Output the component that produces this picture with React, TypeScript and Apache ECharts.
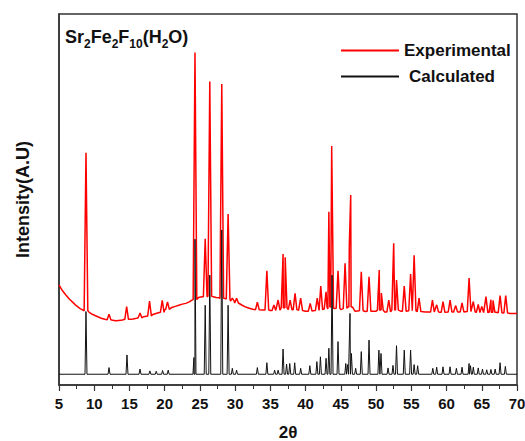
import React, { useEffect, useRef } from "react";
import * as echarts from "echarts";

// x-axis tick values (2θ)
const xTicks = [5, 10, 15, 20, 25, 30, 35, 40, 45, 50, 55, 60, 65, 70];

// Experimental pattern: background points [2θ, intensity]
const expBackground: number[][] = [
  [5.0, 27.0], [5.5, 25.4], [6.0, 24.2], [6.5, 23.1], [7.0, 22.2], [7.5, 21.3], [8.0, 20.6], [8.4, 20.2],
  [9.3, 19.6], [9.8, 19.0], [10.5, 18.4], [11.0, 18.0], [11.5, 17.7], [12.5, 17.5], [13.0, 17.3], [13.5, 17.4],
  [14.0, 17.5], [15.2, 17.7], [15.5, 17.8], [16.0, 18.0], [17.0, 18.4], [18.3, 19.0], [19.0, 19.4], [20.0, 20.3],
  [21.0, 20.9], [21.5, 21.2], [22.0, 21.5], [22.5, 21.8], [23.0, 22.0], [23.5, 22.4], [23.8, 22.8],
  [24.8, 23.6], [25.3, 23.8], [26.0, 24.0], [26.9, 23.8], [27.3, 23.6], [27.7, 23.5], [28.6, 23.3], [29.3, 22.9],
  [30.5, 22.0], [31.0, 21.5], [31.5, 21.0], [32.0, 20.7], [32.5, 20.4], [33.5, 20.3], [34.0, 20.2], [35.0, 20.1],
  [36.0, 20.2], [38.0, 20.3], [39.0, 20.1], [40.0, 19.9], [41.0, 20.0], [42.5, 20.4], [44.0, 20.6], [45.0, 20.3],
  [47.0, 19.9], [48.5, 19.8], [50.0, 19.9], [51.2, 19.7], [53.5, 19.9], [55.0, 19.8], [57.0, 19.7], [59.0, 19.6],
  [61.0, 19.7], [63.0, 19.8], [65.0, 19.5], [67.0, 19.6], [69.0, 19.3], [70.0, 19.3],
];

// Experimental peaks: [2θ, top intensity, base intensity]
const expPeaks: number[][] = [
  [8.83, 62.6, 20.0], [12.1, 19.1, 17.6], [14.6, 21.1, 17.7], [16.5, 19.4, 18.1], [17.85, 22.6, 18.6],
  [19.65, 22.8, 19.6], [20.4, 22.4, 20.4], [24.3, 89.6, 23.0], [25.75, 39.4, 23.8], [26.4, 81.8, 23.9],
  [28.1, 81.1, 23.4], [29.0, 46.1, 23.2], [29.6, 23.4, 22.6], [30.2, 23.4, 22.1], [33.15, 22.3, 20.3],
  [34.5, 30.8, 20.2], [35.5, 21.6, 20.1], [36.1, 22.9, 20.2], [36.8, 35.3, 20.8], [37.1, 34.4, 20.8],
  [37.8, 22.9, 20.3], [38.5, 24.7, 20.3], [39.3, 23.4, 20.1], [40.65, 22.0, 19.9], [41.65, 23.4, 20.1],
  [42.15, 26.7, 20.3], [42.9, 25.1, 20.5], [43.3, 46.7, 21.0], [43.7, 64.4, 21.0], [44.6, 30.8, 20.7],
  [45.6, 32.8, 20.6], [46.2, 37.3, 21.0], [46.4, 51.2, 21.0], [47.9, 30.5, 20.0], [49.0, 29.2, 19.9],
  [50.45, 31.0, 20.2], [50.75, 24.8, 20.2], [51.8, 22.9, 19.7], [52.5, 38.2, 20.2], [52.9, 28.3, 20.2],
  [54.0, 26.7, 19.9], [54.9, 29.9, 20.0], [55.4, 35.0, 20.0], [56.1, 23.4, 19.8], [58.0, 22.9, 19.7],
  [58.6, 21.6, 19.7], [59.5, 22.5, 19.6], [60.5, 22.9, 19.7], [61.3, 21.4, 19.7], [62.2, 22.1, 19.7],
  [63.2, 28.8, 19.8], [63.8, 22.5, 19.7], [64.5, 21.7, 19.6], [65.0, 21.2, 19.5], [65.6, 23.8, 19.5],
  [66.3, 23.0, 19.6], [66.6, 22.8, 19.6], [67.6, 24.1, 19.5], [68.4, 24.1, 19.4],
];

// Calculated pattern: baseline and peaks [2θ, top intensity]
const calcBase = 2.9;
const calcPeaks: number[][] = [
  [8.83, 19.8], [12.1, 4.7], [14.65, 8.1], [16.5, 4.3], [17.9, 3.8], [18.8, 3.7], [19.7, 3.9], [20.5, 4.0],
  [24.15, 7.4], [24.3, 39.3], [25.75, 21.5], [26.4, 29.6], [28.1, 41.8], [29.0, 21.5], [29.6, 4.5], [30.2, 4.0],
  [33.15, 4.7], [34.5, 6.0], [35.6, 4.0], [36.1, 4.0], [36.8, 9.7], [37.3, 5.6], [37.75, 5.8], [38.45, 6.0],
  [39.3, 4.5], [40.6, 5.2], [41.6, 6.3], [42.1, 7.6], [42.9, 7.2], [43.3, 9.9], [43.75, 29.6], [44.6, 11.7],
  [45.7, 5.8], [45.95, 5.5], [46.3, 19.3], [46.5, 8.5], [47.1, 4.5], [47.9, 9.0], [49.0, 12.1], [50.4, 9.4],
  [50.7, 8.5], [51.7, 4.6], [52.4, 5.3], [52.9, 10.6], [54.0, 9.4], [54.9, 9.4], [55.4, 5.5], [55.9, 5.2],
  [58.05, 4.5], [58.6, 4.8], [59.5, 4.9], [60.5, 4.9], [61.4, 4.5], [62.2, 4.8], [63.2, 5.8], [63.4, 5.2],
  [63.8, 4.8], [64.5, 4.6], [65.1, 4.3], [65.7, 4.1], [66.3, 4.2], [66.9, 4.3], [67.6, 6.0], [68.35, 5.0],
];

const W_EXP = 0.26;
const W_CALC = 0.14;
const FONT = "'Liberation Sans', Arial, sans-serif";

function buildExp(): number[][] {
  const pts: number[][] = expBackground.filter(
    ([x]) => !expPeaks.some(([p]) => Math.abs(x - p) < W_EXP)
  );
  expPeaks.forEach(([p, top, base]) => {
    pts.push([p - W_EXP, base], [p, top], [p + W_EXP, base]);
  });
  return pts.sort((a, b) => a[0] - b[0]);
}

function buildCalc(): number[][] {
  const pts: number[][] = [[xTicks[0], calcBase], [xTicks[xTicks.length - 1], calcBase]];
  calcPeaks.forEach(([p, top]) => {
    pts.push([p - W_CALC, calcBase], [p, top], [p + W_CALC, calcBase]);
  });
  return pts.sort((a, b) => a[0] - b[0]);
}

export default function App() {
  const ref = useRef<HTMLDivElement>(null);
  useEffect(() => {
    if (!ref.current) return;
    document.body.style.margin = "0";
    const chart = echarts.init(ref.current, null, { renderer: "svg" });
    chart.setOption({
      animation: false,
      backgroundColor: "#ffffff",
      grid: {
        left: 59, right: 8, top: 14, bottom: 56,
        containLabel: false,
        outerBoundsMode: "none",
        show: true, borderColor: "#333333", borderWidth: 1.5,
      },
      title: {
        left: 65, top: 25, padding: 0,
        text: "{n|Sr}{s|2}{n|Fe}{s|2}{n|F}{s|10}{n|(H}{s|2}{n|O)}",
        textStyle: {
          rich: {
            n: { fontFamily: FONT, fontWeight: "bold", fontSize: 18, color: "#111", lineHeight: 21, verticalAlign: "bottom" },
            s: { fontFamily: FONT, fontWeight: "bold", fontSize: 12, color: "#111", lineHeight: 12, verticalAlign: "bottom", padding: [0, 0, -4, 0] },
          },
        },
      },
      legend: {
        orient: "vertical",
        left: 341, top: 42, padding: 0,
        itemWidth: 58, itemHeight: 2, itemGap: 9,
        icon: "rect",
        data: ["Experimental", "Calculated"],
        formatter: (name: string) => (name === "Calculated" ? "{c|" + name + "}" : "{e|" + name + "}"),
        textStyle: {
          rich: {
            e: { fontFamily: FONT, fontWeight: "bold", fontSize: 17, color: "#111", padding: [0, 0, 0, 0] },
            c: { fontFamily: FONT, fontWeight: "bold", fontSize: 17, color: "#111", padding: [0, 0, 0, 5] },
          },
        },
      },
      xAxis: {
        type: "value",
        min: 5, max: 70, interval: 5,
        name: "2θ",
        nameLocation: "middle",
        nameGap: 39,
        nameTextStyle: { fontFamily: FONT, fontWeight: "bold", fontSize: 17, lineHeight: 16, color: "#111" },
        axisLine: { show: true, lineStyle: { color: "#333", width: 1.5 } },
        axisTick: { show: true, inside: false, length: 6, lineStyle: { color: "#333", width: 1.2 } },
        minorTick: { show: true, splitNumber: 2, length: 4, lineStyle: { color: "#333", width: 1 } },
        axisLabel: { fontFamily: FONT, fontWeight: "bold", fontSize: 15, color: "#111", margin: 11 },
        splitLine: { show: false },
      },
      yAxis: {
        type: "value",
        min: 0, max: 100,
        name: "Intensity(A.U)",
        nameLocation: "middle",
        nameGap: 27,
        nameTextStyle: { fontFamily: FONT, fontWeight: "bold", fontSize: 18, color: "#111" },
        axisLine: { show: true, lineStyle: { color: "#333", width: 1.5 } },
        axisTick: { show: false },
        axisLabel: { show: false },
        splitLine: { show: false },
      },
      series: [
        {
          name: "Experimental",
          type: "line",
          data: buildExp(),
          showSymbol: false,
          symbol: "none",
          color: "#ff0000",
          lineStyle: { color: "#ff0000", width: 1.5 },
        },
        {
          name: "Calculated",
          type: "line",
          data: buildCalc(),
          showSymbol: false,
          symbol: "none",
          color: "#111111",
          lineStyle: { color: "#111111", width: 1 },
        },
      ],
    });
    return () => chart.dispose();
  }, []);
  return <div ref={ref} style={{ width: 525, height: 441 }} />;
}
